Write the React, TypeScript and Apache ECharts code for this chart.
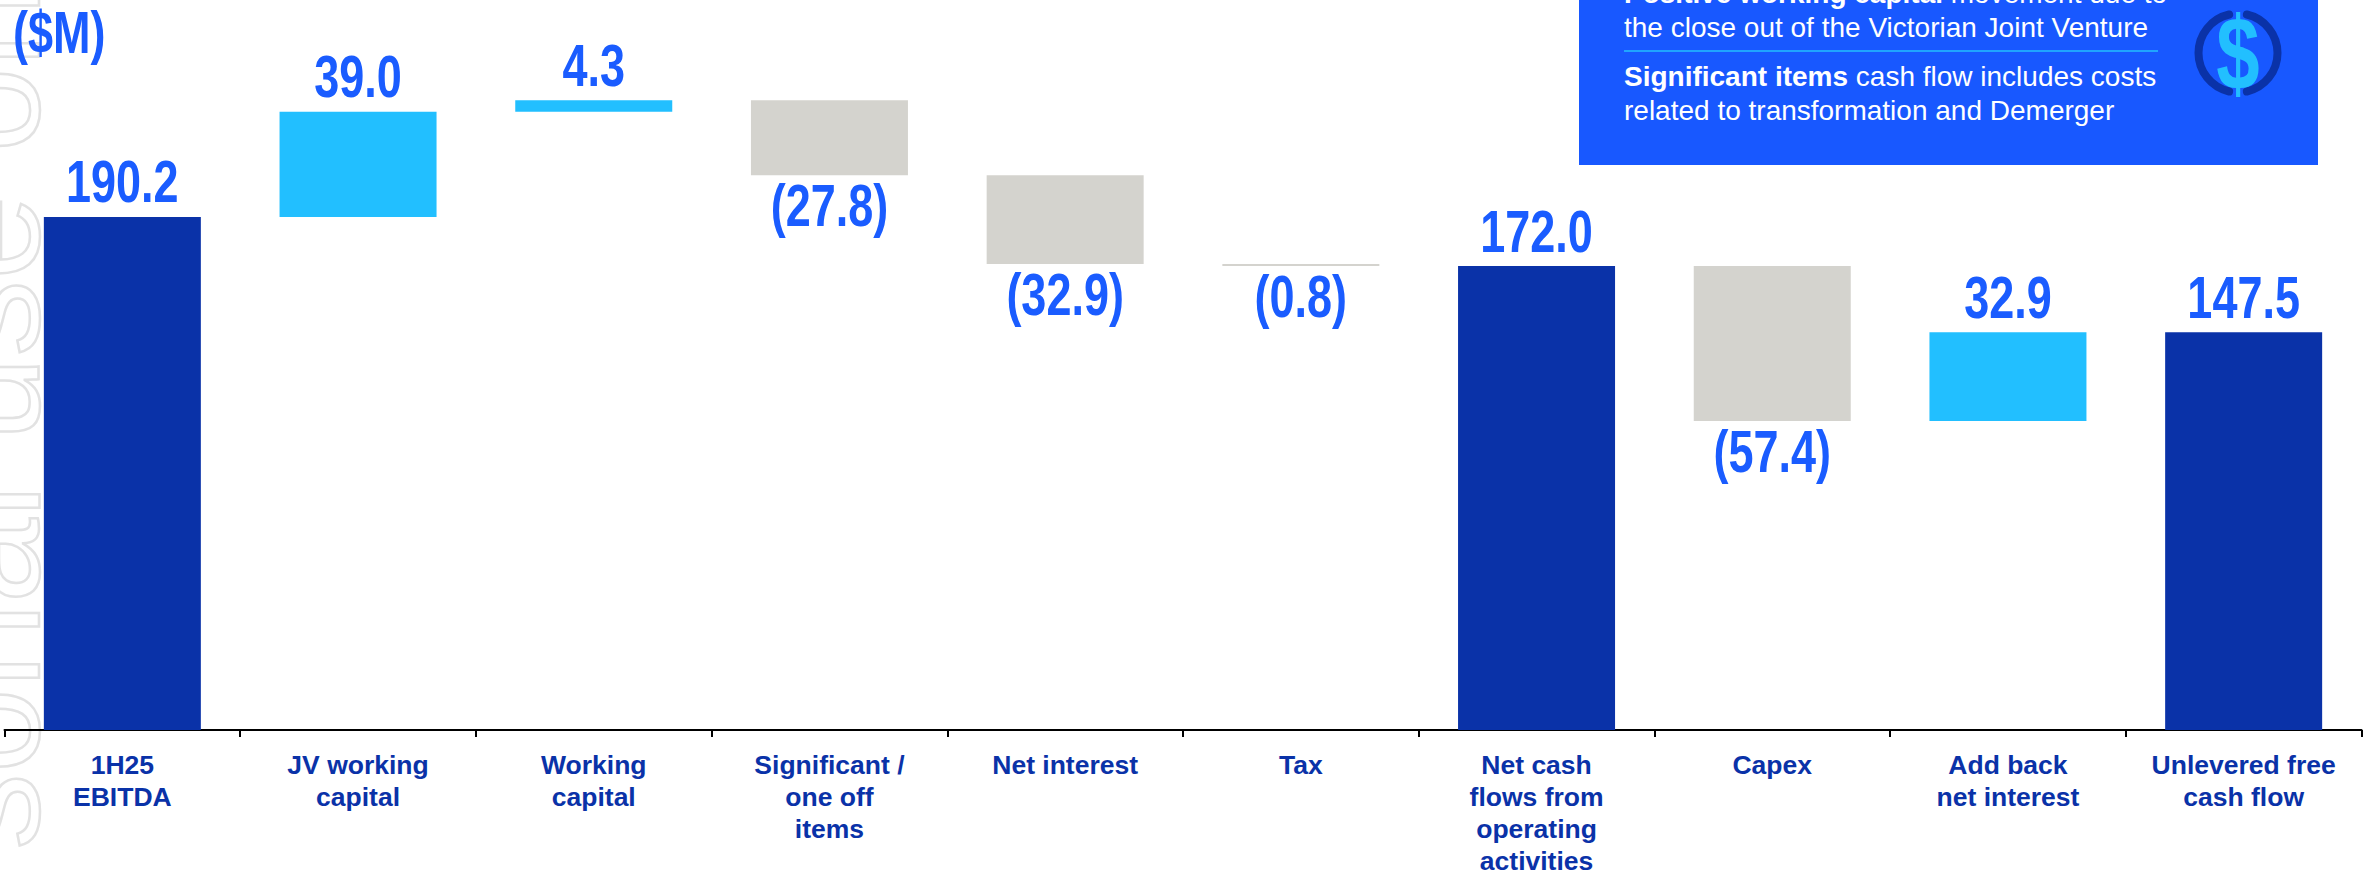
import React, { useEffect, useRef } from "react";
import * as echarts from "echarts";

const categories = [
  "1H25\nEBITDA",
  "JV working\ncapital",
  "Working\ncapital",
  "Significant /\none off\nitems",
  "Net interest",
  "Tax",
  "Net cash\nflows from\noperating\nactivities",
  "Capex",
  "Add back\nnet interest",
  "Unlevered free\ncash flow",
];
const amounts = [190.2, 39.0, 4.3, -27.8, -32.9, -0.8, 172.0, -57.4, 32.9, 147.5];
const totals = [true, false, false, false, false, false, true, false, false, true];

const NAVY = "#0A32A8";
const SKY = "#22BFFF";
const STONE = "#D4D3CE";
const BLUE = "#1A5CFF";
const ARIAL = "'Liberation Sans', Arial, sans-serif";
const SQUEEZE = 0.75; // horizontal scale that gives the headline figures their condensed look

// Running total: each floating step starts where the previous one finished.
const bases: number[] = [];
let level = 0;
amounts.forEach((v, i) => {
  if (totals[i]) {
    bases.push(0);
    level = v;
  } else {
    bases.push(v >= 0 ? level : level + v);
    level += v;
  }
});

const fmt = (v: number) => (v < 0 ? `(${Math.abs(v).toFixed(1)})` : v.toFixed(1));

export default function App() {
  const ref = useRef<HTMLDivElement>(null);
  useEffect(() => {
    const chart = echarts.init(ref.current!, undefined, { renderer: "svg" });
    chart.setOption({
      animation: false,
      backgroundColor: "#fff",
      grid: { left: 4.5, right: 14.5, top: 1.8, height: 728.2, outerBoundsMode: "none" },
      xAxis: {
        type: "category",
        data: categories,
        axisLine: { lineStyle: { color: "#000", width: 2 } },
        axisTick: { show: true, length: 7, alignWithLabel: false, lineStyle: { color: "#000", width: 2 } },
        axisLabel: {
          interval: 0,
          color: NAVY,
          fontFamily: ARIAL,
          fontWeight: "bold",
          fontSize: 26.5,
          lineHeight: 32,
          margin: 19,
          verticalAlign: "top",
        },
      },
      yAxis: { type: "value", min: 0, max: 270, show: false, splitLine: { show: false } },
      series: [
        {
          type: "bar",
          stack: "flow",
          barWidth: 157,
          silent: true,
          itemStyle: { color: "transparent" },
          data: bases,
        },
        {
          type: "bar",
          stack: "flow",
          barWidth: 157,
          data: amounts.map((v, i) => ({
            value: Math.abs(v),
            itemStyle: { color: totals[i] ? NAVY : v >= 0 ? SKY : STONE },
          })),
        },
        {
          // Value captions, squeezed horizontally and anchored to the bar's free edge.
          type: "custom",
          z: 4,
          silent: true,
          encode: { x: 0, y: 1 },
          data: amounts.map((v, i) => [i, v < 0 ? bases[i] : bases[i] + v, v]),
          renderItem: (_params: any, api: any) => {
            const amount = api.value(2) as number;
            const [x, y] = api.coord([api.value(0), api.value(1)]);
            return {
              type: "text",
              x,
              y: amount < 0 ? y + 30 : y - 35.5,
              scaleX: SQUEEZE,
              style: {
                text: fmt(amount),
                fill: BLUE,
                font: `bold 60px ${ARIAL}`,
                align: "center",
                verticalAlign: "middle",
              },
            };
          },
        },
      ],
      graphic: [
        {
          type: "text",
          z: -1,
          x: 62,
          y: 1343,
          rotation: Math.PI / 2,
          style: {
            text: "For personal use only",
            fill: "transparent",
            stroke: "#e2e2e2",
            lineWidth: 2.5,
            font: `153px ${ARIAL}`,
            verticalAlign: "bottom",
          },
        },
        {
          type: "text",
          z: 5,
          x: 13,
          y: 32,
          scaleX: SQUEEZE,
          style: {
            text: "($M)",
            fill: BLUE,
            font: `bold 60px ${ARIAL}`,
            verticalAlign: "middle",
          },
        },
        { type: "rect", z: 5, shape: { x: 1579, y: -4, width: 739, height: 169 }, style: { fill: "#1858FF" } },
        {
          type: "text",
          z: 6,
          x: 1624,
          y: 10.5,
          style: {
            text: "{b|Positive working capital} movement due to\nthe close out of the Victorian Joint Venture",
            fill: "#fff",
            font: `28px ${ARIAL}`,
            lineHeight: 34,
            verticalAlign: "middle",
            rich: {
              b: { fontWeight: "bold", fontSize: 28, fontFamily: ARIAL, fill: "#fff", lineHeight: 34 },
            },
          },
        },
        {
          type: "line",
          z: 6,
          shape: { x1: 1624, y1: 51, x2: 2158, y2: 51 },
          style: { stroke: SKY, lineWidth: 1.5 },
        },
        {
          type: "text",
          z: 6,
          x: 1624,
          y: 93,
          style: {
            text: "{b|Significant items} cash flow includes costs\nrelated to transformation and Demerger",
            fill: "#fff",
            font: `28px ${ARIAL}`,
            lineHeight: 34,
            verticalAlign: "middle",
            rich: {
              b: { fontWeight: "bold", fontSize: 28, fontFamily: ARIAL, fill: "#fff", lineHeight: 34 },
            },
          },
        },
        {
          type: "arc",
          z: 6,
          shape: { cx: 2238, cy: 53, r: 39.5, startAngle: Math.PI * 0.572, endAngle: Math.PI * 1.428 },
          style: { fill: "none", stroke: NAVY, lineWidth: 8, lineCap: "round" },
        },
        {
          type: "arc",
          z: 6,
          shape: { cx: 2238, cy: 53, r: 39.5, startAngle: -Math.PI * 0.428, endAngle: Math.PI * 0.428 },
          style: { fill: "none", stroke: NAVY, lineWidth: 8, lineCap: "round" },
        },
        {
          type: "text",
          z: 7,
          x: 2238,
          y: 53,
          scaleX: SQUEEZE,
          style: {
            text: "$",
            fill: SKY,
            font: `bold 104px ${ARIAL}`,
            align: "center",
            verticalAlign: "middle",
          },
        },
      ],
    });
    return () => chart.dispose();
  }, []);
  return <div ref={ref} style={{ position: "absolute", left: 0, top: 0, width: 2376, height: 873 }} />;
}
